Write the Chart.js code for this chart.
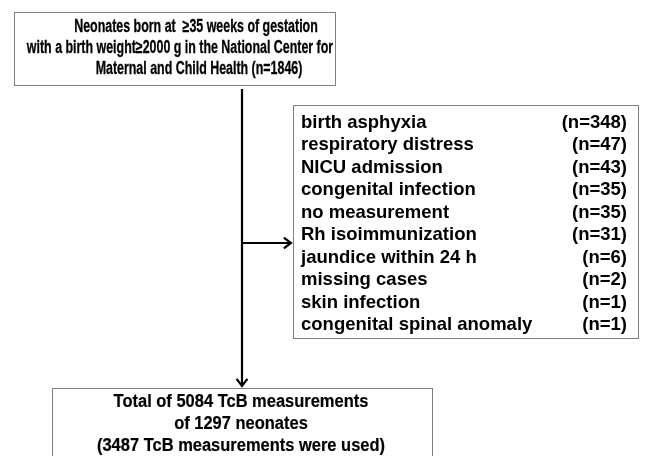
<!DOCTYPE html>
<html>
<head>
<meta charset="utf-8">
<script src="https://cdn.jsdelivr.net/npm/chart.js@4.4.1/dist/chart.umd.min.js"></script>
<style>
  html, body { margin: 0; padding: 0; background: #fff; }
  canvas { display: block; }
</style>
</head>
<body>
<canvas id="flow" width="646" height="456"></canvas>
<script>
// flow chart text
const topLines = [
  'Neonates born at  \u226535 weeks of gestation',
  'with a birth weight\u22652000 g in the National Center for',
  'Maternal and Child Health (n=1846)'
];
const reasons = [
  'birth asphyxia', 'respiratory distress', 'NICU admission', 'congenital infection',
  'no measurement', 'Rh isoimmunization', 'jaundice within 24 h', 'missing cases',
  'skin infection', 'congenital spinal anomaly'
];
const reasonCounts = [348, 47, 43, 35, 35, 31, 6, 2, 1, 1];
const bottomLines = [
  'Total of 5084 TcB measurements',
  'of 1297 neonates',
  '(3487 TcB measurements were used)'
];

const FAMILY = '"Liberation Sans", Arial, sans-serif';

const flowPlugin = {
  id: 'flow',
  afterDraw(chart) {
    const { ctx, scales: { x, y } } = chart;
    const px = v => x.getPixelForValue(v);
    const py = v => y.getPixelForValue(v);

    const box = (x0, y0, x1, y1) => {
      ctx.save();
      ctx.strokeStyle = '#808080';
      ctx.lineWidth = 1;
      ctx.strokeRect(px(x0) + 0.5, py(y0) + 0.5, px(x1) - px(x0), py(y1) - py(y0));
      ctx.restore();
    };

    // text squeezed horizontally like the original (narrow bold face)
    const text = (t, cx, by, align, size, sx, heavy) => {
      ctx.save();
      ctx.font = 'bold ' + size + 'px ' + FAMILY;
      ctx.fillStyle = '#000';
      ctx.strokeStyle = '#000';
      ctx.textBaseline = 'alphabetic';
      ctx.textAlign = align;
      ctx.translate(px(cx), py(by));
      ctx.scale(sx, 1);
      ctx.fillText(t, 0, 0);
      if (heavy) {
        ctx.lineWidth = heavy;
        ctx.strokeText(t, 0, 0);
      }
      ctx.restore();
    };

    const arrow = (x0, y0, x1, y1) => {
      ctx.save();
      ctx.strokeStyle = '#000';
      ctx.lineWidth = 2.2;
      ctx.beginPath();
      ctx.moveTo(px(x0), py(y0));
      ctx.lineTo(px(x1), py(y1));
      ctx.stroke();
      const a = Math.atan2(py(y1) - py(y0), px(x1) - px(x0));
      const h = 9;
      ctx.beginPath();
      ctx.moveTo(px(x1) - h * Math.cos(a - 0.65), py(y1) - h * Math.sin(a - 0.65));
      ctx.lineTo(px(x1), py(y1));
      ctx.lineTo(px(x1) - h * Math.cos(a + 0.65), py(y1) - h * Math.sin(a + 0.65));
      ctx.stroke();
      ctx.restore();
    };

    // top box
    box(14, 12, 335, 85);
    const topCenters = [196, 180, 199];
    topLines.forEach((t, i) => text(t, topCenters[i], 32 + i * 21, 'center', 18, 0.69, 0.3));

    // exclusion box
    box(293, 105, 638, 338);
    reasons.forEach((r, i) => {
      const by = 128 + i * 22.45;
      text(r, 301, by, 'left', 18.5, 1);
      text('(n=' + reasonCounts[i] + ')', 627, by, 'right', 18.5, 1);
    });

    // bottom box
    box(52, 388, 432, 470);
    bottomLines.forEach((t, i) => text(t, 241, 407 + i * 22, 'center', 18, 0.915, 0.2));

    // arrows
    arrow(242, 89, 242, 386);
    arrow(242, 243, 291, 243);
  }
};

new Chart(document.getElementById('flow'), {
  type: 'scatter',
  data: { datasets: [{ data: [] }] },
  options: {
    responsive: false,
    animation: false,
    layout: { padding: 0 },
    plugins: { legend: { display: false }, tooltip: { enabled: false } },
    scales: {
      x: { type: 'linear', min: 0, max: 646, display: false },
      y: { type: 'linear', min: 0, max: 456, reverse: true, display: false }
    }
  },
  plugins: [flowPlugin]
});
</script>
</body>
</html>
